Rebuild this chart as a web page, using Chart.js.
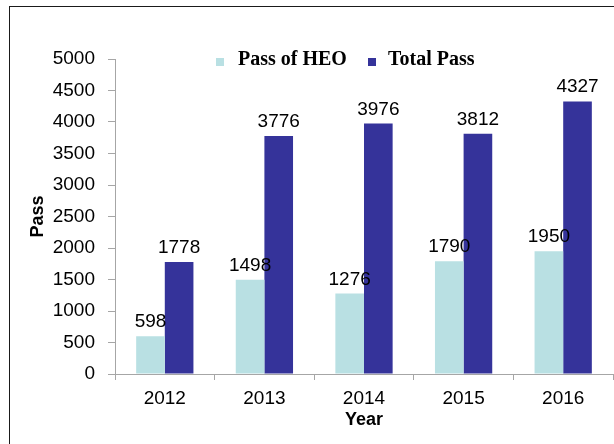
<!DOCTYPE html>
<html>
<head>
<meta charset="utf-8">
<script src="https://cdn.jsdelivr.net/npm/chart.js@4.4.0/dist/chart.umd.min.js"></script>
<style>
  html, body { margin: 0; padding: 0; background: #fff; }
  #wrap { position: relative; width: 614px; height: 444px; overflow: hidden; }
  #frame { position: absolute; left: 9px; top: 6px; width: 700px; height: 500px;
           border-left: 1px solid #1a1a1a; border-top: 1px solid #1a1a1a; }
  canvas { position: absolute; left: 0; top: 0; }
</style>
</head>
<body>
<div id="wrap">
  <div id="frame"></div>
  <canvas id="c" width="614" height="444"></canvas>
</div>
<script>
const categories = ["2012", "2013", "2014", "2015", "2016"];
const passOfHEO = [598, 1498, 1276, 1790, 1950];
const totalPass = [1778, 3776, 3976, 3812, 4327];
const seriesNames = ["Pass of HEO", "Total Pass"];
const yTicks = [0, 500, 1000, 1500, 2000, 2500, 3000, 3500, 4000, 4500, 5000];

const lightColor = "#B9E0E3";
const darkColor = "#35339A";
const axisGray = "#A6A6A6";

const valueLabels = {
  id: "valueLabels",
  afterDatasetsDraw(chart) {
    const ctx = chart.ctx;
    ctx.save();
    ctx.font = "19px 'Liberation Sans', Arial, sans-serif";
    ctx.fillStyle = "#000";
    ctx.textAlign = "center";
    ctx.textBaseline = "alphabetic";
    chart.data.datasets.forEach((ds, i) => {
      const meta = chart.getDatasetMeta(i);
      meta.data.forEach((bar, j) => {
        ctx.fillText(String(ds.data[j]), bar.x, bar.y - 9);
      });
    });
    ctx.restore();
  }
};

const customLegend = {
  id: "customLegend",
  afterDraw(chart) {
    const ctx = chart.ctx;
    ctx.save();
    ctx.font = "bold 20px 'Liberation Serif', 'Times New Roman', serif";
    ctx.textBaseline = "middle";
    ctx.textAlign = "left";
    const items = [
      { x: 216, tx: 238, sq: 8, label: chart.data.datasets[0].label, color: chart.data.datasets[0].backgroundColor },
      { x: 368, tx: 388, sq: 8, label: chart.data.datasets[1].label, color: chart.data.datasets[1].backgroundColor }
    ];
    const cy = 61;
    items.forEach(it => {
      ctx.fillStyle = it.color;
      ctx.fillRect(it.x, cy - it.sq / 2 + 1, it.sq, it.sq);
      ctx.fillStyle = "#000";
      ctx.fillText(it.label, it.tx, cy - 1);
    });
    ctx.restore();
  }
};

new Chart(document.getElementById("c"), {
  type: "bar",
  data: {
    labels: categories,
    datasets: [
      { label: seriesNames[0], data: passOfHEO, backgroundColor: lightColor },
      { label: seriesNames[1], data: totalPass, backgroundColor: darkColor }
    ]
  },
  options: {
    responsive: false,
    animation: false,
    devicePixelRatio: 1,
    layout: { padding: { top: 59, right: 1, left: 0, bottom: 0 } },
    datasets: { bar: { categoryPercentage: 0.575, barPercentage: 1.0 } },
    plugins: { legend: { display: false }, tooltip: { enabled: false } },
    scales: {
      x: {
        grid: { display: true, drawOnChartArea: false, drawTicks: true, tickLength: 6, color: axisGray, offset: true },
        border: { display: true, color: axisGray, width: 1 },
        ticks: { color: "#000", font: { family: "'Liberation Sans', Arial, sans-serif", size: 19 }, padding: 7, maxRotation: 0 },
        title: { display: true, text: "Year", color: "#000", font: { family: "'Liberation Sans', Arial, sans-serif", size: 18, weight: "bold" }, padding: { top: 0, bottom: 13 } },
        afterFit(scale) { scale.height = 70; }
      },
      y: {
        min: 0, max: 5000,
        afterBuildTicks(scale) { scale.ticks = yTicks.map(v => ({ value: v })); },
        grid: { display: true, drawOnChartArea: false, drawTicks: true, tickLength: 7, color: axisGray },
        border: { display: true, color: axisGray, width: 1 },
        ticks: { color: "#000", font: { family: "'Liberation Sans', Arial, sans-serif", size: 19 }, padding: 13, callback: (v) => String(v) },
        title: { display: true, text: "Pass", color: "#000", font: { family: "'Liberation Sans', Arial, sans-serif", size: 18, weight: "bold" }, padding: { top: 27, bottom: 0 } },
        afterFit(scale) { scale.width = 115; }
      }
    }
  },
  plugins: [valueLabels, customLegend]
});
</script>
</body>
</html>
